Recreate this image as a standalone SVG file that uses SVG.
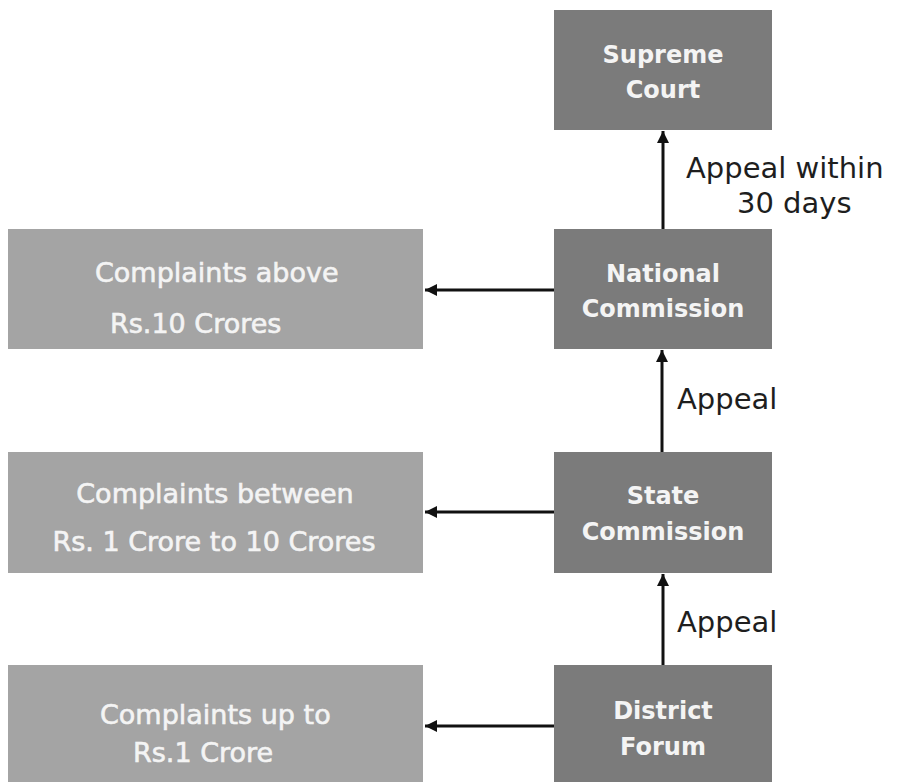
<svg xmlns="http://www.w3.org/2000/svg" width="898" height="782" viewBox="0 0 898 782">
<style>
.dark{fill:#7b7b7b}
.light{fill:#a4a4a4}
.bt{font-family:"DejaVu Sans",Verdana,sans-serif;font-weight:bold;font-size:24px;fill:#f4f4f4;text-anchor:middle}
.lt{font-family:"DejaVu Sans",Verdana,sans-serif;font-size:27px;fill:#f4f4f4;stroke:#f4f4f4;stroke-width:0.6}
.lbl{font-family:"DejaVu Sans",Verdana,sans-serif;font-size:29px;fill:#1e1e1e}
.conn{stroke:#111;stroke-width:3;fill:none;marker-end:url(#ah)}
</style>
<defs>
<marker id="ah" markerUnits="userSpaceOnUse" markerWidth="13" markerHeight="13" refX="12" refY="6.5" orient="auto">
<path d="M0,0.5 L12,6.5 L0,12.5 z" fill="#111"/>
</marker>
</defs>
<rect width="898" height="782" fill="#ffffff"/>
<g id="supreme-court">
<rect class="dark" x="554" y="10" width="218" height="120"/>
<text class="bt" x="663" y="63">Supreme</text>
<text class="bt" x="663" y="98">Court</text>
</g>
<g id="national-commission">
<rect class="dark" x="554" y="229" width="218" height="120"/>
<text class="bt" x="663" y="282">National</text>
<text class="bt" x="663" y="317">Commission</text>
</g>
<g id="state-commission">
<rect class="dark" x="554" y="452" width="218" height="121"/>
<text class="bt" x="663" y="504">State</text>
<text class="bt" x="663" y="540">Commission</text>
</g>
<g id="district-forum">
<rect class="dark" x="554" y="665" width="218" height="117"/>
<text class="bt" x="663" y="719">District</text>
<text class="bt" x="663" y="755">Forum</text>
</g>
<g id="complaints-above">
<rect class="light" x="8" y="229" width="415" height="120"/>
<text class="lt" x="95" y="282">Complaints above</text>
<text class="lt" x="110" y="333">Rs.10 Crores</text>
</g>
<g id="complaints-between">
<rect class="light" x="8" y="452" width="415" height="121"/>
<text class="lt" x="215" y="503" text-anchor="middle">Complaints between</text>
<text class="lt" x="214" y="551" text-anchor="middle">Rs. 1 Crore to 10 Crores</text>
</g>
<g id="complaints-upto">
<rect class="light" x="8" y="665" width="415" height="117"/>
<text class="lt" x="100" y="724">Complaints up to</text>
<text class="lt" x="133" y="762">Rs.1 Crore</text>
</g>
<g id="connectors">
<line class="conn" x1="663" y1="229" x2="663" y2="131"/>
<line class="conn" x1="662" y1="452" x2="662" y2="350"/>
<line class="conn" x1="663" y1="665" x2="663" y2="574"/>
<line class="conn" x1="554" y1="290" x2="425" y2="290"/>
<line class="conn" x1="554" y1="512" x2="425" y2="512"/>
<line class="conn" x1="554" y1="726" x2="425" y2="726"/>
</g>
<g id="labels">
<text class="lbl" x="686" y="178">Appeal within</text>
<text class="lbl" x="737" y="213">30 days</text>
<text class="lbl" x="677" y="409">Appeal</text>
<text class="lbl" x="677" y="632">Appeal</text>
</g>
</svg>
